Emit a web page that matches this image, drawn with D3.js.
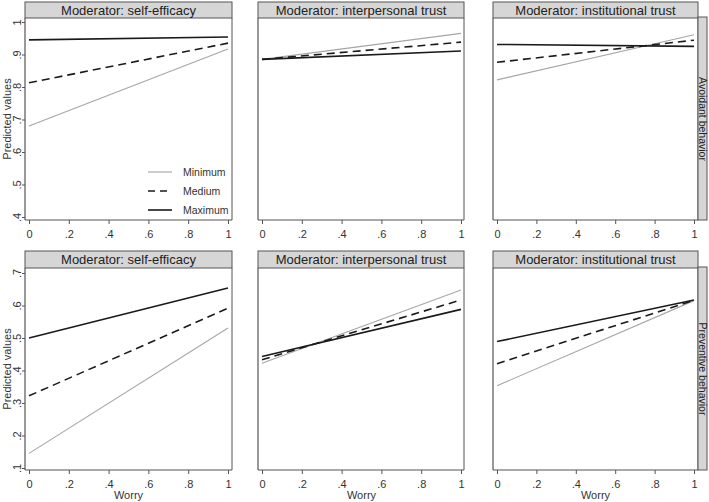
<!DOCTYPE html>
<html>
<head>
<meta charset="utf-8">
<script src="https://cdn.jsdelivr.net/npm/d3@7"></script>
<style>
  html, body { margin: 0; padding: 0; background: #fff; }
  svg { display: block; font-family: "Liberation Sans", Arial, Helvetica, sans-serif; }
</style>
</head>
<body>
<svg id="chart" width="709" height="502"></svg>
<script>
// ---- data ----
const moderators = ["Moderator: self-efficacy", "Moderator: interpersonal trust", "Moderator: institutional trust"];
const outcomes = ["Avoidant behavior", "Preventive behavior"];
const levels = ["Minimum", "Medium", "Maximum"];
const worryX = [0, 1];
const xTicks = [0, 0.2, 0.4, 0.6, 0.8, 1];
const yTicksTop = [0.4, 0.5, 0.6, 0.7, 0.8, 0.9, 1];
const yTicksBottom = [0.1, 0.2, 0.3, 0.4, 0.5, 0.6, 0.7];

// predicted values at worry = 0 and 1 : [Minimum, Medium, Maximum]
const avoidSelfEfficacy   = [[0.680, 0.917], [0.813, 0.935], [0.945, 0.954]];
const avoidInterpersonal  = [[0.885, 0.965], [0.885, 0.938], [0.885, 0.911]];
const avoidInstitutional  = [[0.822, 0.961], [0.876, 0.944], [0.931, 0.925]];
const prevSelfEfficacy    = [[0.145, 0.531], [0.322, 0.592], [0.500, 0.654]];
const prevInterpersonal   = [[0.422, 0.648], [0.433, 0.617], [0.443, 0.588]];
const prevInstitutional   = [[0.353, 0.615], [0.421, 0.616], [0.489, 0.617]];

const panelData = [
  [avoidSelfEfficacy, avoidInterpersonal, avoidInstitutional],
  [prevSelfEfficacy, prevInterpersonal, prevInstitutional]
];

// ---- layout ----
const svg = d3.select("#chart");
const colFrames = [[25, 232], [258, 464], [493, 698]];
const colX = [[29, 228], [262, 461], [497, 694]];
const rows = [
  { headTop: 2, plotTop: 18, plotBot: 220, yDomain: [0.4, 1], yRange: [217, 22], ticks: yTicksTop },
  { headTop: 251, plotTop: 268, plotBot: 470, yDomain: [0.1, 0.7], yRange: [468, 273], ticks: yTicksBottom }
];
const styles = [
  { stroke: "#a6a6a6", width: 1.1, dash: null },
  { stroke: "#1a1a1a", width: 1.6, dash: "8,5" },
  { stroke: "#1a1a1a", width: 1.6, dash: null }
];
const fmt = v => v === 0 ? "0" : v === 1 ? "1" : d3.format(".1f")(v).replace(/^0/, "");
const textCol = "#333";

rows.forEach((row, ri) => {
  const y = d3.scaleLinear().domain(row.yDomain).range(row.yRange);
  colFrames.forEach((fr, ci) => {
    const x = d3.scaleLinear().domain([0, 1]).range(colX[ci]);
    const g = svg.append("g");

    // header
    g.append("rect").attr("x", fr[0]).attr("y", row.headTop)
      .attr("width", fr[1] - fr[0]).attr("height", row.plotTop - row.headTop)
      .attr("fill", "#d6d6d6").attr("stroke", "#555").attr("stroke-width", 1);
    g.append("text").attr("x", (fr[0] + fr[1]) / 2).attr("y", (row.headTop + row.plotTop) / 2 + 4.5)
      .attr("text-anchor", "middle").attr("font-size", 13).attr("fill", "#222")
      .text(moderators[ci]);

    // plot frame sides
    g.append("line").attr("x1", fr[0]).attr("x2", fr[0]).attr("y1", row.plotTop).attr("y2", row.plotBot)
      .attr("stroke", "#555").attr("stroke-width", 1.2);
    g.append("line").attr("x1", fr[1]).attr("x2", fr[1]).attr("y1", row.plotTop).attr("y2", row.plotBot)
      .attr("stroke", "#555").attr("stroke-width", 1);

    // x axis
    const xAxis = d3.axisBottom(x).tickValues(xTicks).tickFormat(fmt).tickSize(4).tickPadding(6);
    const xg = g.append("g").attr("transform", `translate(0,${row.plotBot})`).call(xAxis);
    xg.select(".domain").attr("d", `M${fr[0]},0H${fr[1]}`).attr("stroke", "#555").attr("stroke-width", 1.2);
    xg.selectAll(".tick line").attr("stroke", "#555");
    xg.selectAll(".tick text").attr("font-size", 11).attr("fill", textCol).attr("font-family", null);

    // y axis only on first column
    if (ci === 0) {
      const yAxis = d3.axisLeft(y).tickValues(row.ticks).tickFormat(fmt).tickSize(3).tickPadding(2);
      const yg = g.append("g").attr("transform", `translate(${fr[0]},0)`).call(yAxis);
      yg.select(".domain").remove();
      yg.selectAll(".tick line").attr("stroke", "#555");
      yg.selectAll(".tick text").attr("font-size", 11).attr("fill", textCol).attr("font-family", null)
        .attr("text-anchor", "middle").attr("dy", 0).attr("x", 0)
        .attr("transform", "translate(-4.5,0) rotate(-90)");
      g.append("text").attr("transform", `translate(11,${(row.plotTop + row.plotBot) / 2}) rotate(-90)`)
        .attr("text-anchor", "middle").attr("font-size", 11).attr("fill", textCol).text("Predicted values");
    }

    // lines
    const line = d3.line().x((d, i) => x(worryX[i])).y(d => y(d));
    panelData[ri][ci].forEach((vals, li) => {
      const st = styles[li];
      g.append("path").datum(vals).attr("d", line).attr("fill", "none")
        .attr("stroke", st.stroke).attr("stroke-width", st.width)
        .attr("stroke-dasharray", st.dash);
    });

    // x title on bottom row
    if (ri === 1) {
      g.append("text").attr("x", (colX[ci][0] + colX[ci][1]) / 2).attr("y", 499)
        .attr("text-anchor", "middle").attr("font-size", 11).attr("fill", textCol).text("Worry");
    }
  });

  // right strip
  const sx = 698, sw = 9;
  svg.append("rect").attr("x", sx).attr("y", row.plotTop - 1).attr("width", sw)
    .attr("height", row.plotBot - row.plotTop + 1)
    .attr("fill", "#d6d6d6").attr("stroke", "#555").attr("stroke-width", 1);
  svg.append("text").attr("transform", `translate(${sx + 0.5},${(row.plotTop + row.plotBot) / 2}) rotate(90)`)
    .attr("text-anchor", "middle").attr("font-size", 10.5).attr("fill", "#222").text(outcomes[ri]);
});

// legend in first panel
const legY = [172, 191, 210];
levels.forEach((lab, i) => {
  const st = styles[i];
  svg.append("line").attr("x1", 148).attr("x2", 172).attr("y1", legY[i]).attr("y2", legY[i])
    .attr("stroke", st.stroke).attr("stroke-width", st.width).attr("stroke-dasharray", st.dash ? "7,5" : null);
  svg.append("text").attr("x", 183).attr("y", legY[i] + 4).attr("font-size", 10.5)
    .attr("fill", textCol).text(lab);
});
</script>
</body>
</html>
